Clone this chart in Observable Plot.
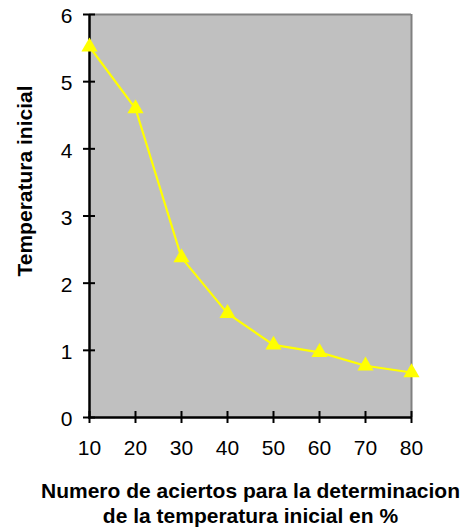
<!DOCTYPE html>
<html>
<head>
<meta charset="utf-8">
<script src="https://cdn.jsdelivr.net/npm/d3@7"></script>
<script src="https://cdn.jsdelivr.net/npm/@observablehq/plot@0.6"></script>
<style>
  html, body { margin: 0; padding: 0; background: #fff; }
  svg { display: block; }
</style>
</head>
<body>
<div id="chart"></div>
<script>
const aciertos = [10, 20, 30, 40, 50, 60, 70, 80];
const temperatura = [5.52, 4.6, 2.38, 1.55, 1.08, 0.97, 0.77, 0.67];
const xTicks = [10, 20, 30, 40, 50, 60, 70, 80];
const yTicks = [0, 1, 2, 3, 4, 5, 6];
const xTitle = "Numero de aciertos para la determinacion\nde la temperatura inicial en %";
const yTitle = "Temperatura inicial";

const data = aciertos.map((a, i) => ({x: a, y: temperatura[i]}));
const font = "Liberation Sans, Arial, sans-serif";

const chart = Plot.plot({
  width: 465,
  height: 528,
  marginLeft: 89,
  marginRight: 54,
  marginTop: 14,
  marginBottom: 111,
  style: {fontFamily: font, background: "#fff", overflow: "visible"},
  x: {domain: [10, 80]},
  y: {domain: [0, 6]},
  marks: [
    Plot.frame({fill: "#c0c0c0", stroke: null}),
    Plot.ruleY([6], {stroke: "#808080", strokeWidth: 2}),
    Plot.ruleX([80], {stroke: "#808080", strokeWidth: 2}),
    Plot.ruleY([0], {stroke: "#000", strokeWidth: 2.5, insetLeft: -1}),
    Plot.ruleX([10], {stroke: "#000", strokeWidth: 2.5}),
    Plot.ruleX(xTicks, {x: d => d, y1: 0, y2: 0, insetTop: -6, insetBottom: -6, stroke: "#000", strokeWidth: 2}),
    Plot.ruleY(yTicks, {y: d => d, x1: 10, x2: 10, insetLeft: -6, insetRight: -6, stroke: "#000", strokeWidth: 2}),
    Plot.axisX({ticks: xTicks, tickFormat: d3.format("d"), tickSize: 0, tickPadding: 23, fontSize: 21, label: null, fill: "#000"}),
    Plot.axisY({ticks: yTicks, tickFormat: d3.format("d"), tickSize: 0, tickPadding: 17, dy: 2, fontSize: 21, label: null, fill: "#000"}),
    Plot.line(data, {x: "x", y: "y", stroke: "#ffff00", strokeWidth: 2.2}),
    Plot.dot(data, {x: "x", y: "y", symbol: "triangle", r: 6, fill: "#ffff00", stroke: null}),
    Plot.text([xTitle], {frameAnchor: "bottom", lineAnchor: "top", dy: 63, fontSize: 21, fontWeight: "bold", lineHeight: 1.19, fill: "#000"}),
    Plot.text([yTitle], {frameAnchor: "left", textAnchor: "middle", rotate: -90, dx: -64, dy: -35, fontSize: 21, fontWeight: "bold", fill: "#000"})
  ]
});
document.getElementById("chart").append(chart);
</script>
</body>
</html>
